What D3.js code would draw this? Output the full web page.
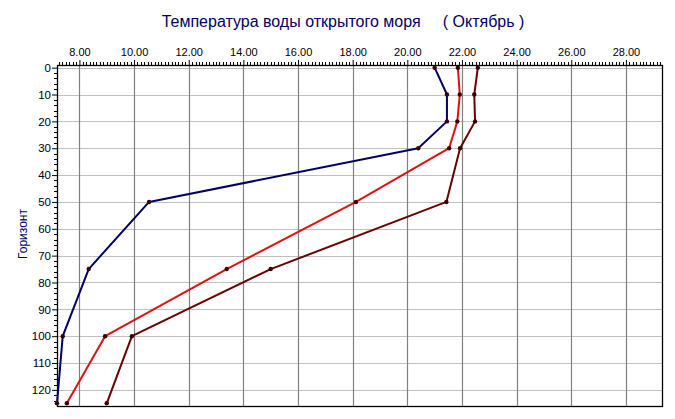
<!DOCTYPE html>
<html><head><meta charset="utf-8">
<script src="https://cdn.jsdelivr.net/npm/d3@7"></script>
<style>
html,body{margin:0;padding:0;background:#fff;}
svg{display:block;font-family:Arial,"Liberation Sans",sans-serif;}
</style></head>
<body>
<svg id="chart" width="675" height="419"></svg>
<script>
const titleText = "Температура воды открытого моря     ( Октябрь )";
const yLabel = "Горизонт";
const depths = [0, 10, 20, 30, 50, 75, 100, 125];
const seriesNavy = [21.0, 21.45, 21.45, 20.4, 10.55, 8.34, 7.39, 7.18];
const seriesRed = [21.85, 21.92, 21.83, 21.53, 18.12, 13.39, 8.94, 7.54];
const seriesDark = [22.58, 22.45, 22.48, 21.93, 21.43, 15.0, 9.92, 9.0];
const xTicks = [8, 10, 12, 14, 16, 18, 20, 22, 24, 26, 28];
const yTicks = [0, 10, 20, 30, 40, 50, 60, 70, 80, 90, 100, 110, 120];

const svg = d3.select("#chart");
const L = 57, R = 662, T = 65, B = 406;
const x = d3.scaleLinear().domain([7.18, 29.32]).range([L, R]);
const y = d3.scaleLinear().domain([-1, 126]).range([T, B]);

// gridlines
const g = svg.append("g");
g.selectAll("line.hg").data(yTicks).join("line")
  .attr("x1", L).attr("x2", R).attr("y1", d => Math.round(y(d)) + 0.5).attr("y2", d => Math.round(y(d)) + 0.5)
  .attr("stroke", "#c0c0c0").attr("stroke-width", 1.2);
g.selectAll("line.vg").data(xTicks).join("line")
  .attr("y1", T).attr("y2", B).attr("x1", d => Math.round(x(d)) + 0.5).attr("x2", d => Math.round(x(d)) + 0.5)
  .attr("stroke", "#808080").attr("stroke-width", 1.2);

// top axis
const minorX = d3.range(7.25, 29.32, 0.125).filter(v => Math.abs(v / 2 - Math.round(v / 2)) > 1e-6);
const topAxis = d3.axisTop(x).tickValues(xTicks).tickFormat(d3.format(".2f")).tickSize(5).tickSizeOuter(0);
const ta = svg.append("g").attr("transform", `translate(0,${T})`).call(topAxis);
ta.select(".domain").remove();
ta.selectAll("text").attr("font-size", 11).attr("fill", "#000").attr("dy", "-0.1em");
ta.selectAll(".tick line").attr("stroke", "#000");
svg.append("g").selectAll("line").data(minorX).join("line")
  .attr("x1", d => Math.round(x(d)) + 0.5).attr("x2", d => Math.round(x(d)) + 0.5)
  .attr("y1", T).attr("y2", T - 3).attr("stroke", "#000");

// left axis
const minorY = d3.range(2, 126, 2).filter(v => v % 10 !== 0);
const leftAxis = d3.axisLeft(y).tickValues(yTicks).tickSize(5).tickSizeOuter(0);
const la = svg.append("g").attr("transform", `translate(${L},0)`).call(leftAxis);
la.select(".domain").remove();
la.selectAll("text").attr("font-size", 11.5).attr("fill", "#000").attr("x", -6);
la.selectAll(".tick line").attr("stroke", "#000");
svg.append("g").selectAll("line").data(minorY).join("line")
  .attr("y1", d => Math.round(y(d)) + 0.5).attr("y2", d => Math.round(y(d)) + 0.5)
  .attr("x1", L).attr("x2", L - 3).attr("stroke", "#000");

// frame
svg.append("rect").attr("x", L + 0.5).attr("y", T + 0.5).attr("width", R - L).attr("height", B - T)
  .attr("fill", "none").attr("stroke", "#000").attr("stroke-width", 1.3);

// series
const series = [
  {vals: seriesNavy, color: "#000066"},
  {vals: seriesRed, color: "#e01010"},
  {vals: seriesDark, color: "#6a0000"}
];
const line = d3.line().x(d => x(d[0])).y(d => y(d[1]));
series.forEach(s => {
  const pts = s.vals.map((v, i) => [v, depths[i]]);
  svg.append("path").datum(pts).attr("d", line)
    .attr("fill", "none").attr("stroke", s.color).attr("stroke-width", 2).attr("stroke-linejoin", "round");
  svg.append("g").selectAll("circle").data(pts).join("circle")
    .attr("cx", d => x(d[0])).attr("cy", d => y(d[1])).attr("r", 2.2)
    .attr("fill", "#3a0000");
});

// title
svg.append("text").attr("x", 343).attr("y", 27).attr("text-anchor", "middle")
  .attr("font-size", 16).attr("fill", "#000066").style("white-space", "pre").text(titleText);

// y label
svg.append("text").attr("transform", "translate(27,234) rotate(-90)").attr("text-anchor", "middle")
  .attr("font-size", 12).attr("fill", "#000066").text(yLabel);
</script>
</body></html>
